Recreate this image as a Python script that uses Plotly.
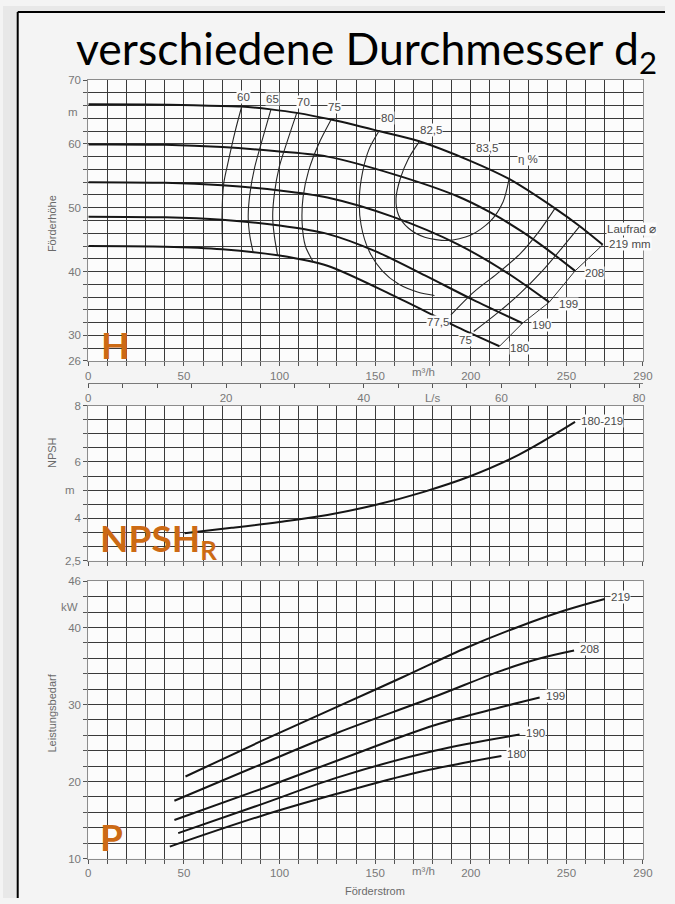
import plotly.graph_objects as go

# ------------------------------------------------------------------ data
Q_MAX = 290  # m3/h, end of the flow axis

# Head curves H(Q) per impeller diameter  (Q in m3/h, H in m)
H219_Q = [0, 30, 55, 80, 95.5, 109, 127, 152, 173, 200, 220, 244, 257, 269]
H219_H = [66.2, 66.15, 66.05, 65.85, 65.4, 64.85, 63.8, 62.0, 60.4, 57.3, 54.5, 49.9, 47.1, 44.2]
H208_Q = [0, 40, 70, 100, 125, 159, 193, 210, 227, 242, 254.5]
H208_H = [59.9, 59.85, 59.5, 58.8, 58.0, 55.3, 51.8, 49.3, 46.2, 43.0, 40.1]
H199_Q = [0, 40, 70, 100, 125, 159, 193, 219, 241]
H199_H = [54.0, 53.9, 53.5, 52.7, 51.6, 48.6, 44.3, 39.8, 35.2]
H190_Q = [0, 40, 70, 100, 125, 150, 176, 201, 227]
H190_H = [48.6, 48.5, 48.1, 47.2, 45.9, 43.2, 39.4, 35.6, 31.9]
H180_Q = [0, 40, 70, 100, 125, 159, 193, 215]
H180_H = [44.0, 43.9, 43.5, 42.5, 40.9, 36.3, 31.3, 28.3]
DIAMETERS = ["219", "208", "199", "190", "180"]

# Efficiency contours (eta %)
E60_Q = [80.2, 76.8, 73.3, 70.8, 69.9, 70.3]
E60_H = [65.85, 62.0, 57.4, 53.8, 48.6, 43.55]
E65_Q = [95.5, 91.3, 87.0, 84.5, 83.6, 84.5, 86.2]
E65_H = [65.4, 61.0, 56.35, 52.2, 48.6, 45.5, 43.0]
E70_Q = [109, 104.1, 99.8, 97.3, 96.4, 97.3, 99.0]
E70_H = [64.85, 60.47, 56.35, 52.2, 48.6, 45.5, 42.5]
E75L_Q = [127, 120.4, 115.2, 112.3, 111.8, 113.5, 117.8]
E75L_H = [63.8, 59.95, 55.8, 51.7, 47.6, 44.0, 41.4]
E80_Q = [152, 146.8, 143.4, 141.7, 142.6, 146.8, 153.7, 162.2, 172.5, 181.0]
E80_H = [62.0, 59.18, 55.58, 51.45, 47.33, 43.21, 40.12, 38.05, 36.77, 36.26]
E825_Q = [173.3, 167.3, 163.1, 160.9, 162.2, 167.3, 175.9, 187.9, 199.8, 210.1, 216.9, 220.0]
E825_H = [60.47, 57.64, 54.54, 51.45, 48.87, 46.82, 45.38, 44.86, 45.68, 47.85, 50.94, 54.5]
E775_Q = [244, 235.7, 225.5, 213.5, 201.5, 189.6]
E775_H = [49.9, 46.3, 42.7, 39.6, 36.77, 33.2]
E75R_Q = [257, 247.7, 237.4, 225.5, 213.5, 201.5]
E75R_H = [47.1, 43.7, 40.1, 36.5, 33.4, 30.6]
EFF_TEXT = ["60", "65", "70", "75", "80", "82,5", "83,5", "η %", "77,5", "75"]

# NPSH required (m)
NPSH_Q = [50.3, 75, 100, 125, 150, 175, 200, 225, 254.5]
NPSH_V = [3.47, 3.66, 3.87, 4.12, 4.47, 4.93, 5.50, 6.25, 7.42]

# Power demand (kW)
P219_Q = [50.8, 90, 130, 164, 198, 224, 249, 270]
P219_V = [20.65, 25.2, 29.7, 33.5, 37.4, 40.0, 42.2, 43.7]
P208_Q = [45, 90, 130, 181, 215, 235, 254]
P208_V = [17.5, 22.2, 26.3, 31.0, 34.3, 35.9, 37.0]
P199_Q = [45, 90, 130, 181, 215, 236]
P199_V = [15.0, 19.0, 22.7, 27.3, 29.6, 30.9]
P190_Q = [47, 90, 130, 181, 225.5]
P190_V = [13.3, 17.0, 20.5, 24.0, 26.1]
P180_Q = [42.6, 90, 130, 172.5, 216]
P180_V = [11.55, 15.5, 18.4, 21.2, 23.3]

# tick labels
X_TICKS = [0, 50, 100, 150, 200, 250, 290]
X_TICK_TEXT = ["0", "50", "100", "150", "200", "250", "290"]
H_TICKS = [26, 30, 40, 50, 60, 70]
H_TICK_TEXT = ["26", "30", "40", "50", "60", "70"]
N_TICKS = [2.5, 4, 6, 8]
N_TICK_TEXT = ["2,5", "4", "6", "8"]
P_TICKS = [10, 20, 30, 40, 46]
P_TICK_TEXT = ["10", "20", "30", "40", "46"]
LS_TICKS = [0, 20, 40, 50, 60, 80]
LS_TICK_TEXT = ["0", "20", "40", "L/s", "60", "80"]

# ------------------------------------------------------------------ layout helpers
W, HGT = 675, 904


def px_x(p):
    return p / W


def px_y(p):
    return 1 - p / HGT


X_DOM = [px_x(87), px_x(652.5)]
Y_DOM_H = [px_y(359.7), px_y(75)]
Y_DOM_N = [px_y(562), px_y(405)]
Y_DOM_P = [px_y(864), px_y(583)]

GRID = "#3a3a3a"
FRAME = "#8c8c8c"
TICKC = "#787878"
PLOT_BG = "#fcfcfc"
TXT = "#4a4a4a"
ORANGE = "#CC6A14"
TICK_FONT = dict(family="Liberation Sans, Arial", size=11.5, color=TICKC)
LBL_FONT = dict(family="Liberation Sans, Arial", size=11.5, color=TXT)


def frange(a, b, step):
    out, v = [], a
    while v <= b + 1e-9:
        out.append(round(v, 3))
        v += step
    return out


fig = go.Figure()

# ---- H curves
h_sets = [(H219_Q, H219_H), (H208_Q, H208_H), (H199_Q, H199_H), (H190_Q, H190_H), (H180_Q, H180_H)]
for qs, hs in h_sets:
    fig.add_trace(go.Scatter(x=qs, y=hs, mode="lines", line=dict(color="#161616", width=2, shape="spline", smoothing=0.8),
                             hoverinfo="skip", showlegend=False, xaxis="x", yaxis="y"))

# ---- efficiency contours
for qs, hs in [(E60_Q, E60_H), (E65_Q, E65_H), (E70_Q, E70_H), (E75L_Q, E75L_H), (E80_Q, E80_H),
               (E825_Q, E825_H), (E775_Q, E775_H), (E75R_Q, E75R_H)]:
    fig.add_trace(go.Scatter(x=qs, y=hs, mode="lines", line=dict(color="#262626", width=1.1, shape="spline", smoothing=0.8),
                             hoverinfo="skip", showlegend=False, xaxis="x", yaxis="y"))

# ---- line joining the curve ends
end_q = [s[0][-1] for s in h_sets]
end_h = [s[1][-1] for s in h_sets]
fig.add_trace(go.Scatter(x=end_q, y=end_h, mode="lines", line=dict(color="#333333", width=1),
                         hoverinfo="skip", showlegend=False, xaxis="x", yaxis="y"))

# ---- NPSH
fig.add_trace(go.Scatter(x=NPSH_Q, y=NPSH_V, mode="lines", line=dict(color="#161616", width=2, shape="spline"),
                         hoverinfo="skip", showlegend=False, xaxis="x2", yaxis="y2"))
# invisible trace registering the L/s axis
fig.add_trace(go.Scatter(x=[0], y=[None], mode="lines", hoverinfo="skip", showlegend=False, xaxis="x4", yaxis="y2"))

# ---- Power
p_sets = [(P219_Q, P219_V), (P208_Q, P208_V), (P199_Q, P199_V), (P190_Q, P190_V), (P180_Q, P180_V)]
for qs, ps in p_sets:
    fig.add_trace(go.Scatter(x=qs, y=ps, mode="lines", line=dict(color="#161616", width=2, shape="spline"),
                             hoverinfo="skip", showlegend=False, xaxis="x3", yaxis="y3"))

# ------------------------------------------------------------------ axes


def minor(vals):
    return dict(tickmode="array", tickvals=vals, showgrid=True, gridcolor=GRID, gridwidth=1,
                ticks="outside", ticklen=4, tickcolor="#555")


xgrid = frange(0, Q_MAX, 10)
hgrid = frange(26, 70, 2)
ngrid = frange(2.5, 8, 0.5)
pgrid = frange(10, 46, 2)
lsgrid = frange(0, 80, 5)

common_x = dict(range=[0, Q_MAX], domain=X_DOM, tickmode="array",
                showgrid=True, gridcolor=GRID, gridwidth=1, zeroline=False,
                showline=True, mirror=True, linecolor=FRAME, linewidth=1,
                ticks="outside", ticklen=4, tickcolor="#555", tickfont=TICK_FONT, fixedrange=True,
                minor=minor(xgrid))
common_y = dict(showgrid=True, gridcolor=GRID, gridwidth=1, zeroline=False, tickmode="array",
                showline=True, mirror=True, linecolor=FRAME, linewidth=1,
                ticks="outside", ticklen=4, tickcolor="#555", tickfont=TICK_FONT, fixedrange=True)

fig.update_layout(
    xaxis=dict(common_x, anchor="y", tickvals=X_TICKS, ticktext=X_TICK_TEXT),
    yaxis=dict(common_y, anchor="x", domain=Y_DOM_H, range=[26, 70], tickvals=H_TICKS,
               ticktext=H_TICK_TEXT, minor=minor(hgrid)),
    xaxis2=dict(common_x, anchor="y2", tickvals=X_TICKS, showticklabels=False),
    yaxis2=dict(common_y, anchor="x2", domain=Y_DOM_N, range=[2.5, 8], tickvals=N_TICKS,
                ticktext=N_TICK_TEXT, minor=minor(ngrid)),
    xaxis3=dict(common_x, anchor="y3", tickvals=X_TICKS, ticktext=X_TICK_TEXT),
    yaxis3=dict(common_y, anchor="x3", domain=Y_DOM_P, range=[10, 46], tickvals=P_TICKS,
                ticktext=P_TICK_TEXT, minor=minor(pgrid)),
    xaxis4=dict(overlaying="x2", anchor="free", position=px_y(382), side="bottom",
                range=[0, Q_MAX / 3.6], tickmode="array", tickvals=LS_TICKS,
                ticktext=LS_TICK_TEXT, showgrid=False, zeroline=False,
                showline=True, linecolor="#7a7a7a", linewidth=1, ticks="outside", ticklen=4,
                tickcolor="#555", tickfont=TICK_FONT, fixedrange=True,
                minor=dict(tickmode="array", tickvals=lsgrid, ticks="outside", ticklen=4,
                           tickcolor="#555", showgrid=False)),
)

# ------------------------------------------------------------------ annotations
ann = []


def add(text, x, y, xref="x", yref="y", font=LBL_FONT, xanchor="center", yanchor="middle",
        bg=PLOT_BG, xshift=0, yshift=0, angle=0):
    ann.append(dict(text=text, x=x, y=y, xref=xref, yref=yref, font=font, xanchor=xanchor,
                    yanchor=yanchor, showarrow=False, bgcolor=bg, borderpad=0,
                    xshift=xshift, yshift=yshift, textangle=angle))


# efficiency labels
EFF_POS = [(81, 67.4), (96.4, 67.1), (112.3, 66.6), (128.9, 65.7), (156.2, 64.1),
           (179.3, 62.2), (208.4, 59.4), (229.7, 57.7), (182.7, 32.1), (197.3, 29.3)]
for t, (qx, hy) in zip(EFF_TEXT, EFF_POS):
    add(t, qx, hy)

# diameter labels at the curve ends
for (qs, hs), d in zip(h_sets[1:], DIAMETERS[1:]):
    add(d, qs[-1], hs[-1], xanchor="left", xshift=9, yshift=-2)
add("Laufrad ⌀", H219_Q[-1], H219_H[-1], xanchor="left", xshift=3, yshift=16)
add("219 mm", H219_Q[-1], H219_H[-1], xanchor="left", xshift=5, yshift=1)

for (qs, ps), d in zip(p_sets, DIAMETERS):
    add(d, qs[-1], ps[-1], xref="x3", yref="y3", xanchor="left", xshift=5, yshift=2)
add("180-219", NPSH_Q[-1], NPSH_V[-1], xref="x2", yref="y2", xanchor="left", xshift=5, yshift=1)

# units / extra tick labels
add("m³/h", 175, px_y(370.5), yref="paper", font=TICK_FONT, bg=None)
add("m³/h", 175, px_y(877), xref="x3", yref="paper", font=TICK_FONT, bg=None)
add("m", px_x(78), 65, xref="paper", font=TICK_FONT, xanchor="right", bg=None)
add("m", px_x(74), 5, xref="paper", yref="y2", font=TICK_FONT, xanchor="right", bg=None)
add("kW", px_x(77), 42.6, xref="paper", yref="y3", font=TICK_FONT, xanchor="right", bg=None)

AX_FONT = dict(family="Liberation Sans, Arial", size=11, color="#6a6a6a")
add("Förderhöhe", px_x(50), px_y(221), xref="paper", yref="paper", font=AX_FONT, bg=None, angle=-90)
add("NPSH", px_x(50), px_y(453), xref="paper", yref="paper", font=AX_FONT, bg=None, angle=-90)
add("Leistungsbedarf", px_x(50), px_y(717), xref="paper", yref="paper", font=AX_FONT, bg=None, angle=-90)
add("Förderstrom", px_x(379), px_y(897), xref="paper", yref="paper", font=AX_FONT, bg=None)

# big orange markers
OR_FONT = dict(family="Lato, Carlito, sans-serif", size=37, color=ORANGE)
add("<b>H</b>", 6.2, 28.6, font=OR_FONT, xanchor="left", bg=None)
add("<b>NPSH<sub>R</sub></b>", 5.4, 3.22, xref="x2", yref="y2", font=OR_FONT, xanchor="left", bg=None)
add("<b>P</b>", 5.6, 12.8, xref="x3", yref="y3", font=OR_FONT, xanchor="left", bg=None)

# title
add("verschiedene Durchmesser d<sub>2</sub>", px_x(371), px_y(46), xref="paper", yref="paper",
    font=dict(family="Lato, Carlito, sans-serif", size=44.5, color="#000000"), bg=None)

# ------------------------------------------------------------------ frame / background
shapes = [
    dict(type="rect", xref="paper", yref="paper", x0=0, x1=px_x(15), y0=0, y1=1,
         fillcolor="#e8e8e8", line=dict(width=0), layer="below"),
    dict(type="rect", xref="paper", yref="paper", x0=0, x1=1, y0=px_y(6), y1=1,
         fillcolor="#e8e8e8", line=dict(width=0), layer="below"),
    dict(type="line", xref="paper", yref="paper", x0=px_x(15), x1=px_x(15), y0=0, y1=px_y(6),
         line=dict(color="#000000", width=2)),
    dict(type="line", xref="paper", yref="paper", x0=px_x(15), x1=1, y0=px_y(6), y1=px_y(6),
         line=dict(color="#000000", width=2)),
]

fig.update_layout(
    width=W, height=HGT, margin=dict(l=0, r=0, t=0, b=0),
    paper_bgcolor="#f4f4f4", plot_bgcolor=PLOT_BG,
    annotations=ann, shapes=shapes, showlegend=False,
)

# the page's default 8px body margin would shift the 675x904 figure and add scrollbars; remove both
PAGE_CSS = ("html,body{margin:0;padding:0;overflow:hidden;}"
            "::-webkit-scrollbar{display:none;width:0;height:0;}")
fig.write_html("out.html", config={"displayModeBar": False},
               post_script="var s=document.createElement('style');s.textContent='" + PAGE_CSS + "';"
                           "document.head.appendChild(s);")
